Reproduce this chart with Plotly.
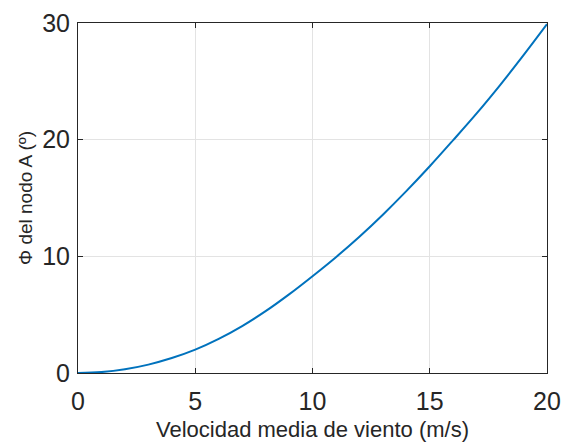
import plotly.graph_objects as go

velocidad = [0, 1, 2, 3, 4, 5, 6, 7, 8, 9, 10, 11, 12, 13, 14, 15, 16, 17, 18, 19, 20]
phi = [0, 0.08, 0.32, 0.72, 1.28, 2.0, 2.92, 4.02, 5.30, 6.74, 8.30, 9.93, 11.68,
       13.57, 15.59, 17.72, 19.96, 22.25, 24.68, 27.24, 29.9]

x_ticks = [0, 5, 10, 15, 20]
y_ticks = [0, 10, 20, 30]
x_title = "Velocidad media de viento (m/s)"
y_title = "Φ del nodo A (º)"

FONT = "Liberation Sans, Arial, sans-serif"

fig = go.Figure()
fig.add_trace(go.Scatter(x=velocidad, y=phi, mode="lines",
                         line=dict(color="#0072BD", width=2, shape="spline"),
                         showlegend=False))

axis_common = dict(
    showline=True, linecolor="#262626", linewidth=1, mirror="ticks",
    ticks="inside", ticklen=5, tickcolor="#262626",
    showgrid=True, gridcolor="#e3e3e3", gridwidth=1,
    zeroline=False, automargin=False,
    tickfont=dict(family=FONT, size=25, color="#262626"),
)

fig.update_xaxes(range=[0, 20], tickvals=x_ticks, ticklabelstandoff=6,
                 title=dict(text=x_title, font=dict(family=FONT, size=22, color="#262626"),
                            standoff=7),
                 **axis_common)
fig.update_yaxes(range=[0, 30], tickvals=y_ticks, ticklabelstandoff=2,
                 title=dict(text=y_title, font=dict(family=FONT, size=19, color="#262626"),
                            standoff=4),
                 **axis_common)

fig.update_layout(width=563, height=444, plot_bgcolor="white", paper_bgcolor="white",
                  margin=dict(l=78, r=16, t=23, b=71))

fig.write_html("out.html", config={"displayModeBar": False},
               post_script="document.body.style.margin='0';document.body.style.overflow='hidden';")
